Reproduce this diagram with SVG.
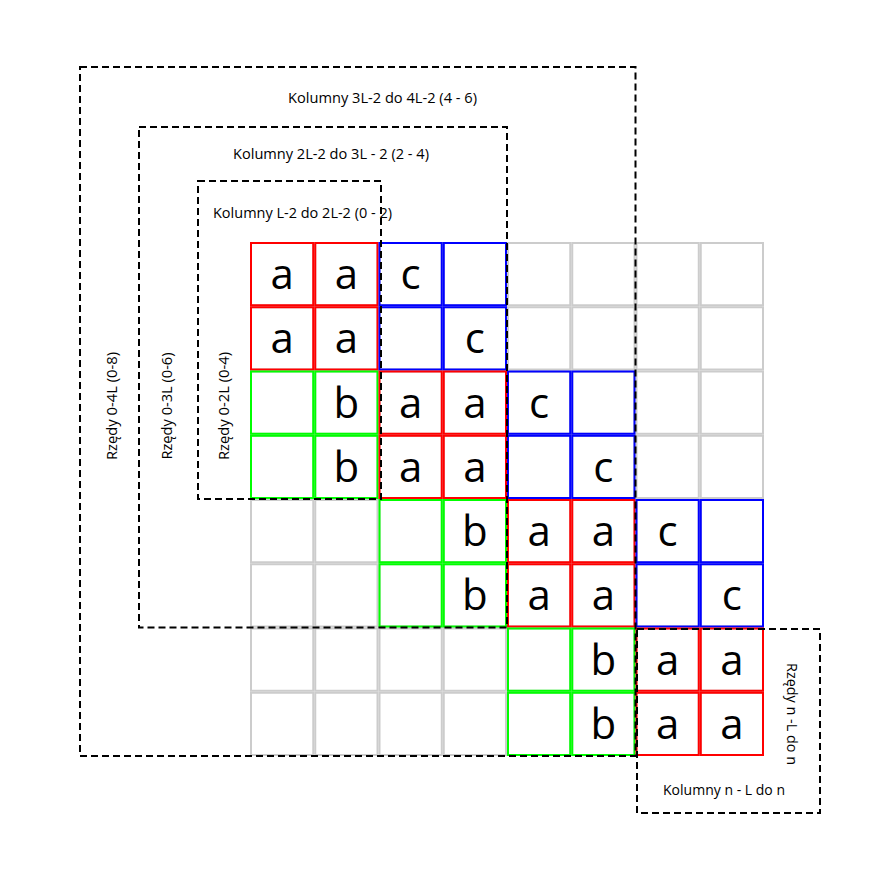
<svg xmlns="http://www.w3.org/2000/svg" xmlns:xlink="http://www.w3.org/1999/xlink" width="887" height="882" viewBox="0 0 887 882">
<style>
.g{fill:none;stroke:#cccccc;stroke-width:2}
.r{fill:none;stroke:#ff0000;stroke-width:2}
.b{fill:none;stroke:#0000ff;stroke-width:2}
.n{fill:none;stroke:#00ff00;stroke-width:2}
.box{fill:none;stroke:#000;stroke-width:2;stroke-dasharray:7 4}
.big{font-family:"Open Sans","Liberation Sans",sans-serif;font-size:42px;fill:#000;text-anchor:middle}
.lbl{font-family:"Open Sans","Liberation Sans",sans-serif;font-size:14px;fill:#000;text-anchor:middle}
</style>
<defs>
<rect id="cell" width="62.25" height="62.25"/>
</defs>
<rect width="887" height="882" fill="#fff"/>
<g id="grid" class="g">
<use xlink:href="#cell" x="251" y="243"/><use xlink:href="#cell" x="315.25" y="243"/><use xlink:href="#cell" x="379.5" y="243"/><use xlink:href="#cell" x="443.75" y="243"/><use xlink:href="#cell" x="508" y="243"/><use xlink:href="#cell" x="572.25" y="243"/><use xlink:href="#cell" x="636.5" y="243"/><use xlink:href="#cell" x="700.75" y="243"/>
<use xlink:href="#cell" x="251" y="307.25"/><use xlink:href="#cell" x="315.25" y="307.25"/><use xlink:href="#cell" x="379.5" y="307.25"/><use xlink:href="#cell" x="443.75" y="307.25"/><use xlink:href="#cell" x="508" y="307.25"/><use xlink:href="#cell" x="572.25" y="307.25"/><use xlink:href="#cell" x="636.5" y="307.25"/><use xlink:href="#cell" x="700.75" y="307.25"/>
<use xlink:href="#cell" x="251" y="371.5"/><use xlink:href="#cell" x="315.25" y="371.5"/><use xlink:href="#cell" x="379.5" y="371.5"/><use xlink:href="#cell" x="443.75" y="371.5"/><use xlink:href="#cell" x="508" y="371.5"/><use xlink:href="#cell" x="572.25" y="371.5"/><use xlink:href="#cell" x="636.5" y="371.5"/><use xlink:href="#cell" x="700.75" y="371.5"/>
<use xlink:href="#cell" x="251" y="435.75"/><use xlink:href="#cell" x="315.25" y="435.75"/><use xlink:href="#cell" x="379.5" y="435.75"/><use xlink:href="#cell" x="443.75" y="435.75"/><use xlink:href="#cell" x="508" y="435.75"/><use xlink:href="#cell" x="572.25" y="435.75"/><use xlink:href="#cell" x="636.5" y="435.75"/><use xlink:href="#cell" x="700.75" y="435.75"/>
<use xlink:href="#cell" x="251" y="500"/><use xlink:href="#cell" x="315.25" y="500"/><use xlink:href="#cell" x="379.5" y="500"/><use xlink:href="#cell" x="443.75" y="500"/><use xlink:href="#cell" x="508" y="500"/><use xlink:href="#cell" x="572.25" y="500"/><use xlink:href="#cell" x="636.5" y="500"/><use xlink:href="#cell" x="700.75" y="500"/>
<use xlink:href="#cell" x="251" y="564.25"/><use xlink:href="#cell" x="315.25" y="564.25"/><use xlink:href="#cell" x="379.5" y="564.25"/><use xlink:href="#cell" x="443.75" y="564.25"/><use xlink:href="#cell" x="508" y="564.25"/><use xlink:href="#cell" x="572.25" y="564.25"/><use xlink:href="#cell" x="636.5" y="564.25"/><use xlink:href="#cell" x="700.75" y="564.25"/>
<use xlink:href="#cell" x="251" y="628.5"/><use xlink:href="#cell" x="315.25" y="628.5"/><use xlink:href="#cell" x="379.5" y="628.5"/><use xlink:href="#cell" x="443.75" y="628.5"/><use xlink:href="#cell" x="508" y="628.5"/><use xlink:href="#cell" x="572.25" y="628.5"/><use xlink:href="#cell" x="636.5" y="628.5"/><use xlink:href="#cell" x="700.75" y="628.5"/>
<use xlink:href="#cell" x="251" y="692.75"/><use xlink:href="#cell" x="315.25" y="692.75"/><use xlink:href="#cell" x="379.5" y="692.75"/><use xlink:href="#cell" x="443.75" y="692.75"/><use xlink:href="#cell" x="508" y="692.75"/><use xlink:href="#cell" x="572.25" y="692.75"/><use xlink:href="#cell" x="636.5" y="692.75"/><use xlink:href="#cell" x="700.75" y="692.75"/>
</g>
<g id="block-a1" class="r">
<use xlink:href="#cell" x="251" y="243"/><use xlink:href="#cell" x="315.25" y="243"/><use xlink:href="#cell" x="251" y="307.25"/><use xlink:href="#cell" x="315.25" y="307.25"/>
</g>
<g id="block-c1" class="b">
<use xlink:href="#cell" x="379.5" y="243"/><use xlink:href="#cell" x="443.75" y="243"/><use xlink:href="#cell" x="379.5" y="307.25"/><use xlink:href="#cell" x="443.75" y="307.25"/>
</g>
<g id="block-b1" class="n">
<use xlink:href="#cell" x="251" y="371.5"/><use xlink:href="#cell" x="315.25" y="371.5"/><use xlink:href="#cell" x="251" y="435.75"/><use xlink:href="#cell" x="315.25" y="435.75"/>
</g>
<g id="block-a2" class="r">
<use xlink:href="#cell" x="379.5" y="371.5"/><use xlink:href="#cell" x="443.75" y="371.5"/><use xlink:href="#cell" x="379.5" y="435.75"/><use xlink:href="#cell" x="443.75" y="435.75"/>
</g>
<g id="block-c2" class="b">
<use xlink:href="#cell" x="508" y="371.5"/><use xlink:href="#cell" x="572.25" y="371.5"/><use xlink:href="#cell" x="508" y="435.75"/><use xlink:href="#cell" x="572.25" y="435.75"/>
</g>
<g id="block-b2" class="n">
<use xlink:href="#cell" x="379.5" y="500"/><use xlink:href="#cell" x="443.75" y="500"/><use xlink:href="#cell" x="379.5" y="564.25"/><use xlink:href="#cell" x="443.75" y="564.25"/>
</g>
<g id="block-a3" class="r">
<use xlink:href="#cell" x="508" y="500"/><use xlink:href="#cell" x="572.25" y="500"/><use xlink:href="#cell" x="508" y="564.25"/><use xlink:href="#cell" x="572.25" y="564.25"/>
</g>
<g id="block-c3" class="b">
<use xlink:href="#cell" x="636.5" y="500"/><use xlink:href="#cell" x="700.75" y="500"/><use xlink:href="#cell" x="636.5" y="564.25"/><use xlink:href="#cell" x="700.75" y="564.25"/>
</g>
<g id="block-b3" class="n">
<use xlink:href="#cell" x="508" y="628.5"/><use xlink:href="#cell" x="572.25" y="628.5"/><use xlink:href="#cell" x="508" y="692.75"/><use xlink:href="#cell" x="572.25" y="692.75"/>
</g>
<g id="block-a4" class="r">
<use xlink:href="#cell" x="636.5" y="628.5"/><use xlink:href="#cell" x="700.75" y="628.5"/><use xlink:href="#cell" x="636.5" y="692.75"/><use xlink:href="#cell" x="700.75" y="692.75"/>
</g>
<g id="letters" class="big">
<text x="282.1" y="289">a</text><text x="346.4" y="289">a</text><text x="410.6" y="289">c</text>
<text x="282.1" y="353.25">a</text><text x="346.4" y="353.25">a</text><text x="474.9" y="353.25">c</text>
<text x="346.4" y="417.5">b</text><text x="410.6" y="417.5">a</text><text x="474.9" y="417.5">a</text><text x="539.1" y="417.5">c</text>
<text x="346.4" y="481.75">b</text><text x="410.6" y="481.75">a</text><text x="474.9" y="481.75">a</text><text x="603.4" y="481.75">c</text>
<text x="474.9" y="546">b</text><text x="539.1" y="546">a</text><text x="603.4" y="546">a</text><text x="667.6" y="546">c</text>
<text x="474.9" y="610.25">b</text><text x="539.1" y="610.25">a</text><text x="603.4" y="610.25">a</text><text x="731.9" y="610.25">c</text>
<text x="603.4" y="674.5">b</text><text x="667.6" y="674.5">a</text><text x="731.9" y="674.5">a</text>
<text x="603.4" y="738.75">b</text><text x="667.6" y="738.75">a</text><text x="731.9" y="738.75">a</text>
</g>
<g id="region-4L">
<rect class="box" x="80" y="67" width="555.5" height="689"/>
<text class="lbl" x="382.5" y="103" textLength="189" lengthAdjust="spacingAndGlyphs">Kolumny 3L-2 do 4L-2 (4 - 6)</text>
<text class="lbl" transform="translate(117,406) rotate(-90)" textLength="108" lengthAdjust="spacingAndGlyphs">Rzędy 0-4L (0-8)</text>
</g>
<g id="region-3L">
<rect class="box" x="139" y="127" width="368" height="500.5"/>
<text class="lbl" x="331" y="159" textLength="196" lengthAdjust="spacingAndGlyphs">Kolumny 2L-2 do 3L - 2 (2 - 4)</text>
<text class="lbl" transform="translate(172,406) rotate(-90)" textLength="107" lengthAdjust="spacingAndGlyphs">Rzędy 0-3L (0-6)</text>
</g>
<g id="region-2L">
<rect class="box" x="198" y="181" width="183" height="318"/>
<text class="lbl" x="302.5" y="218" textLength="179" lengthAdjust="spacingAndGlyphs">Kolumny L-2 do 2L-2 (0 - 2)</text>
<text class="lbl" transform="translate(229,406) rotate(-90)" textLength="108" lengthAdjust="spacingAndGlyphs">Rzędy 0-2L (0-4)</text>
</g>
<g id="region-n">
<rect class="box" x="637" y="629" width="183" height="184"/>
<text class="lbl" x="724" y="795" textLength="122" lengthAdjust="spacingAndGlyphs">Kolumny n - L do n</text>
<text class="lbl" transform="translate(787,714) rotate(90)" textLength="102" lengthAdjust="spacingAndGlyphs">Rzędy n -L do n</text>
</g>
<g id="connectors"/>
</svg>
